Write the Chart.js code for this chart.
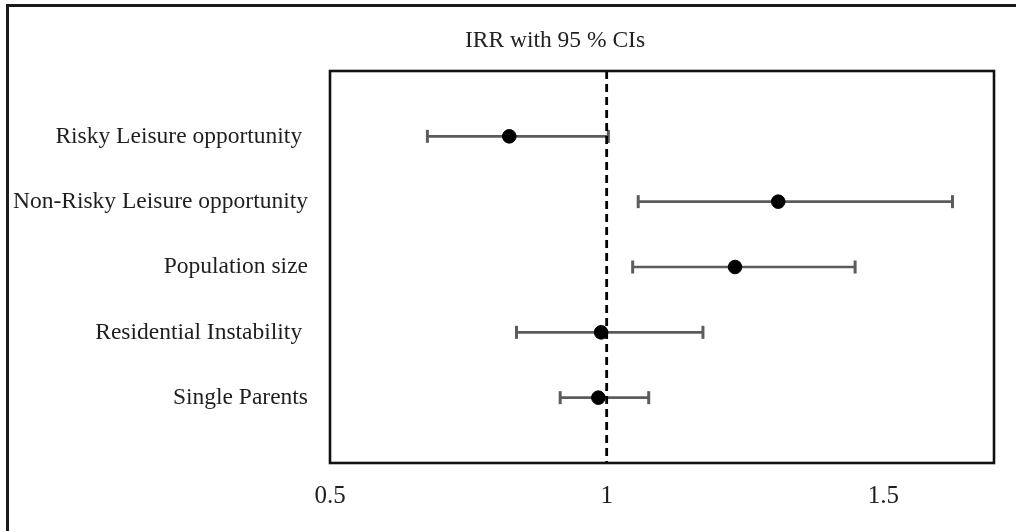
<!DOCTYPE html>
<html>
<head>
<meta charset="utf-8">
<script src="https://cdn.jsdelivr.net/npm/chart.js@4.4.1/dist/chart.umd.min.js"></script>
<style>
  html, body { margin: 0; padding: 0; background: #fff; overflow: hidden; }
  #wrap { position: relative; width: 1016px; height: 531px; }
  #frame { position: absolute; left: 6px; top: 4px; width: 2000px; height: 2000px;
           border-left: 3px solid #1a1a1a; border-top: 3px solid #1a1a1a; box-sizing: border-box; }
  canvas { position: absolute; left: 0; top: 0; }
</style>
</head>
<body>
<div id="wrap">
  <div id="frame"></div>
  <canvas id="c" width="1016" height="531"></canvas>
</div>
<script>
// Incidence rate ratios with 95 % confidence intervals
const predictors = [
  "Risky Leisure opportunity ",
  "Non-Risky Leisure opportunity",
  "Population size",
  "Residential Instability ",
  "Single Parents"
];
const irr   = [0.824, 1.310, 1.232, 0.990, 0.985];
const ciLow = [0.676, 1.057, 1.047, 0.837, 0.916];
const ciHigh= [1.003, 1.625, 1.449, 1.174, 1.076];
const xTickValues = [0.5, 1, 1.5];
const referenceValue = 1;
const chartTitle = "IRR with 95 % CIs";

const SERIF = "'Liberation Serif', 'Times New Roman', serif";
const rowPos = predictors.map((_, i) => i + 1);

// whisker lines, one dataset per row, with vertical caps at both ends
const whiskers = predictors.map((name, i) => ({
  type: 'line',
  label: name + ' CI',
  data: [{x: ciLow[i], y: rowPos[i]}, {x: ciHigh[i], y: rowPos[i]}],
  borderColor: '#5c5c5c',
  borderWidth: 2.6,
  pointStyle: 'line',
  rotation: 90,
  pointRadius: 6.5,
  pointBorderWidth: 3,
  pointBorderColor: '#5c5c5c',
  pointHoverRadius: 6.5,
  order: 3
}));

const refLine = {
  type: 'line',
  label: 'reference',
  data: [{x: referenceValue, y: 0}, {x: referenceValue, y: 6}],
  borderColor: '#000',
  borderWidth: 2.8,
  borderDash: [8, 5],
  pointRadius: 0,
  clip: false,
  order: 2
};

const estimates = {
  type: 'scatter',
  label: 'IRR',
  data: irr.map((v, i) => ({x: v, y: rowPos[i]})),
  backgroundColor: '#000',
  borderColor: '#000',
  pointRadius: 6.8,
  pointHoverRadius: 6.8,
  order: 1
};

const boxAndTitle = {
  id: 'boxAndTitle',
  afterDatasetsDraw(chart) {
    const {ctx, chartArea: a} = chart;
    ctx.save();
    ctx.strokeStyle = '#111';
    ctx.lineWidth = 2.6;
    ctx.strokeRect(a.left, a.top, a.right - a.left, a.bottom - a.top);
    ctx.restore();
  },
  afterDraw(chart) {
    const {ctx} = chart;
    ctx.save();
    ctx.fillStyle = '#222';
    ctx.font = '23.5px ' + SERIF;
    ctx.textAlign = 'center';
    ctx.textBaseline = 'alphabetic';
    ctx.fillText(chartTitle, 555, 47);
    ctx.restore();
  }
};

new Chart(document.getElementById('c'), {
  type: 'scatter',
  data: { datasets: [...whiskers, refLine, estimates] },
  options: {
    responsive: false,
    animation: false,
    events: [],
    layout: { padding: { top: 71, right: 22, bottom: 2, left: 0 } },
    plugins: { legend: { display: false }, tooltip: { enabled: false }, title: { display: false } },
    scales: {
      x: {
        type: 'linear',
        min: 0.5,
        max: 1.7,
        afterBuildTicks: s => { s.ticks = xTickValues.map(v => ({value: v})); },
        grid: { display: false, drawTicks: false },
        border: { display: false },
        ticks: {
          padding: 18,
          color: '#1e1e1e',
          maxRotation: 0,
          autoSkip: false,
          font: { family: SERIF, size: 25 },
          callback: v => String(v)
        }
      },
      y: {
        type: 'linear',
        min: 0,
        max: 6,
        reverse: true,
        afterBuildTicks: s => { s.ticks = rowPos.map(v => ({value: v})); },
        afterFit: s => { s.width = 330; },
        grid: { display: false, drawTicks: false },
        border: { display: false },
        ticks: {
          padding: 22,
          color: '#1e1e1e',
          autoSkip: false,
          font: { family: SERIF, size: 23.5 },
          callback: v => predictors[v - 1]
        }
      }
    }
  },
  plugins: [boxAndTitle]
});
</script>
</body>
</html>
